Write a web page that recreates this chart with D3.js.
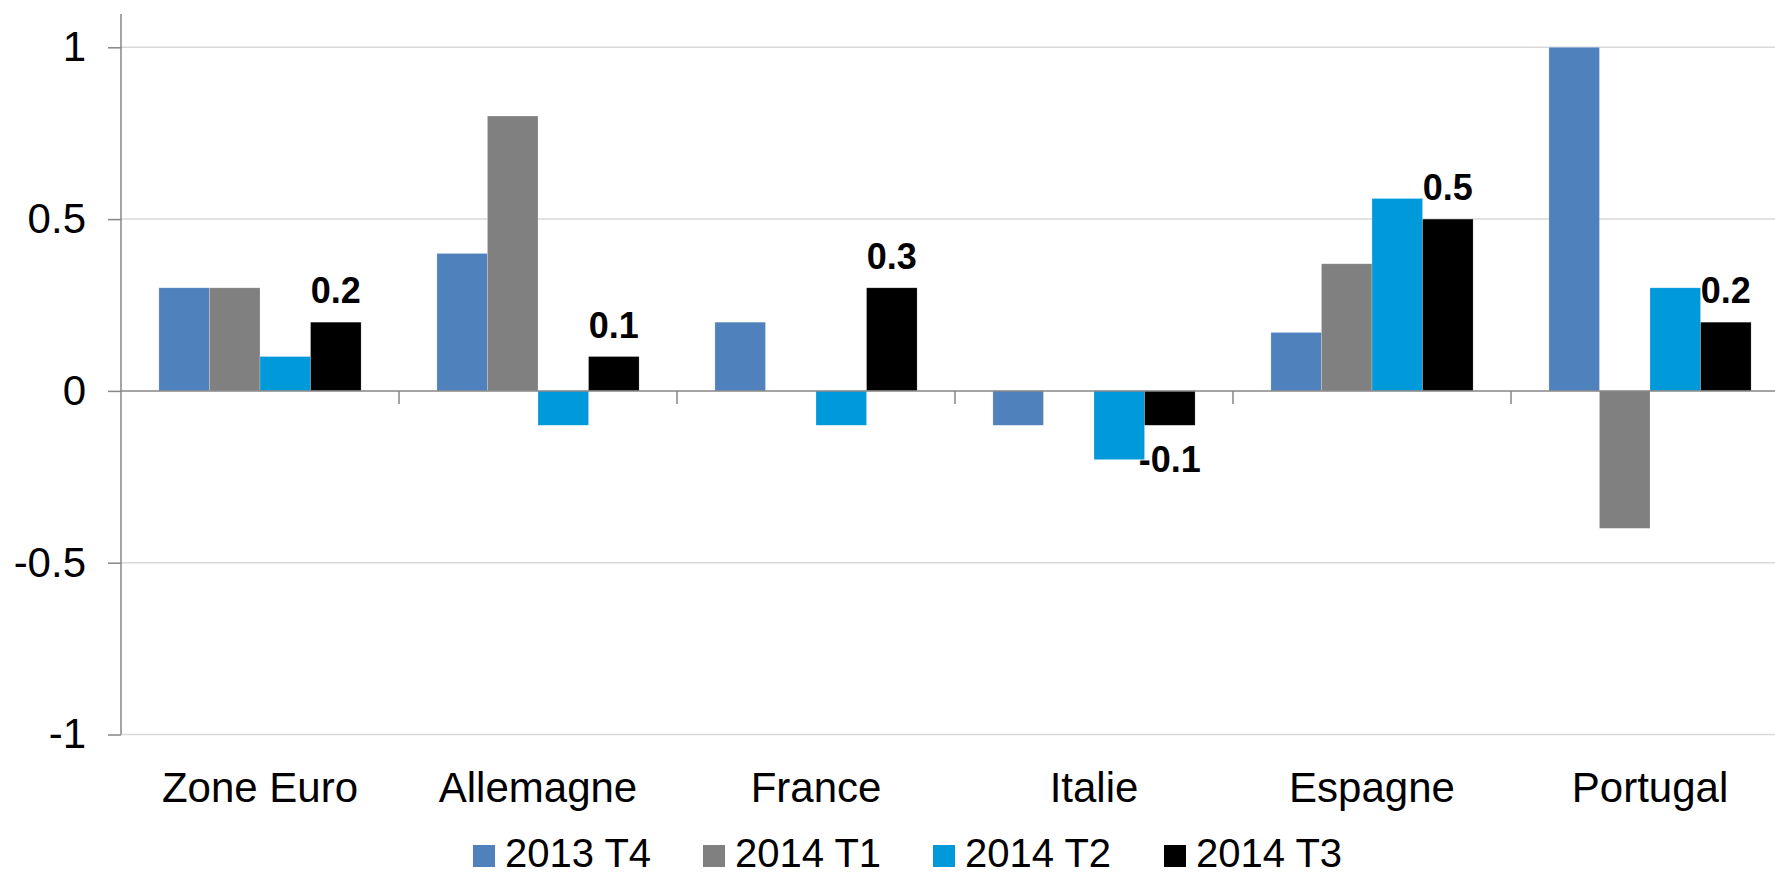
<!DOCTYPE html>
<html>
<head>
<meta charset="utf-8">
<script src="https://cdn.jsdelivr.net/npm/d3@7"></script>
<style>
  html, body { margin: 0; padding: 0; background: #fff; overflow: hidden; }
  svg { display: block; }
  text { font-family: "Liberation Sans", Arial, sans-serif; fill: #000; }
</style>
</head>
<body>
<svg id="chart" width="1775" height="877"></svg>
<script>
// ---- data ----
const categories = ["Zone Euro", "Allemagne", "France", "Italie", "Espagne", "Portugal"];
const seriesNames = ["2013 T4", "2014 T1", "2014 T2", "2014 T3"];
const s2013T4 = [0.3, 0.4, 0.2, -0.1, 0.17, 1.0];
const s2014T1 = [0.3, 0.8, 0, 0, 0.37, -0.4];
const s2014T2 = [0.1, -0.1, -0.1, -0.2, 0.56, 0.3];
const s2014T3 = [0.2, 0.1, 0.3, -0.1, 0.5, 0.2];
const seriesColors = ["#4F81BD", "#808080", "#0099DA", "#000000"];
const yTicks = [-1, -0.5, 0, 0.5, 1];
const labeledSeries = "2014 T3";

const seriesValues = [s2013T4, s2014T1, s2014T2, s2014T3];

// ---- layout ----
const svg = d3.select("#chart");
const plotLeft = 121, catStep = 278;
const plotTop = 14;

const x0 = d3.scaleBand().domain(categories)
  .range([plotLeft, plotLeft + catStep * categories.length])
  .paddingInner(0).paddingOuter(0);
const x1 = d3.scaleBand().domain(seriesNames)
  .range([0, x0.bandwidth()])
  .paddingInner(0).paddingOuter(0.75);
const y = d3.scaleLinear().domain([-1, 1]).range([734.5, 47.3]);

// gridlines
svg.append("g").selectAll("line").data(yTicks.filter(d => d !== 0)).join("line")
  .attr("x1", plotLeft).attr("x2", 1775)
  .attr("y1", d => y(d)).attr("y2", d => y(d))
  .attr("stroke", "#d9d9d9").attr("stroke-width", 1.5);

// bars
const rows = [];
seriesNames.forEach((s, si) => {
  categories.forEach((c, ci) => {
    rows.push({ series: s, si, cat: c, value: seriesValues[si][ci] });
  });
});
svg.append("g").selectAll("rect").data(rows.filter(d => d.value !== 0)).join("rect")
  .attr("x", d => x0(d.cat) + x1(d.series))
  .attr("width", x1.bandwidth())
  .attr("y", d => Math.min(y(d.value), y(0)))
  .attr("height", d => Math.abs(y(d.value) - y(0)))
  .attr("fill", d => seriesColors[d.si])
  .attr("stroke", "#ffffff").attr("stroke-opacity", 0.35).attr("stroke-width", 0.6);

// y axis
const yAxis = d3.axisLeft(y).tickValues(yTicks).tickSize(13).tickPadding(22)
  .tickFormat(d => String(d));
const gy = svg.append("g").attr("transform", `translate(${plotLeft},0)`).call(yAxis);
gy.select(".domain").remove();
gy.selectAll(".tick line").attr("stroke", "#868686").attr("stroke-width", 1.5);
gy.selectAll(".tick text").attr("font-size", 42)
  .attr("font-family", '"Liberation Sans", Arial, sans-serif').attr("fill", "#000");
svg.append("line").attr("x1", plotLeft).attr("x2", plotLeft)
  .attr("y1", plotTop).attr("y2", y(-1))
  .attr("stroke", "#868686").attr("stroke-width", 1.5);

// x axis at zero
svg.append("line").attr("x1", plotLeft).attr("x2", 1775)
  .attr("y1", y(0)).attr("y2", y(0))
  .attr("stroke", "#868686").attr("stroke-width", 1.5);
const bounds = categories.map(c => x0(c) + x0.bandwidth()).slice(0, -1);
svg.append("g").selectAll("line").data(bounds).join("line")
  .attr("x1", d => d).attr("x2", d => d)
  .attr("y1", y(0)).attr("y2", y(0) + 13)
  .attr("stroke", "#868686").attr("stroke-width", 1.5);

// category labels
svg.append("g").selectAll("text").data(categories).join("text")
  .attr("x", d => x0(d) + x0.bandwidth() / 2)
  .attr("y", 802)
  .attr("text-anchor", "middle")
  .attr("font-size", 42)
  .text(d => d);

// data labels
svg.append("g").selectAll("text").data(rows.filter(d => d.series === labeledSeries)).join("text")
  .attr("x", d => x0(d.cat) + x1(d.series) + x1.bandwidth() / 2)
  .attr("y", d => d.value >= 0 ? y(d.value) - 19 : y(d.value) + 47)
  .attr("text-anchor", "middle")
  .attr("font-size", 36)
  .attr("font-weight", "bold")
  .text(d => String(d.value));

// legend
const legendX = [473, 703, 933, 1164];
const lg = svg.append("g").selectAll("g").data(seriesNames).join("g")
  .attr("transform", (d, i) => `translate(${legendX[i]},0)`);
lg.append("rect").attr("x", 0).attr("y", 845).attr("width", 22).attr("height", 22)
  .attr("fill", (d, i) => seriesColors[i]);
lg.append("text").attr("x", 32).attr("y", 867).attr("font-size", 40).text(d => d);
</script>
</body>
</html>
